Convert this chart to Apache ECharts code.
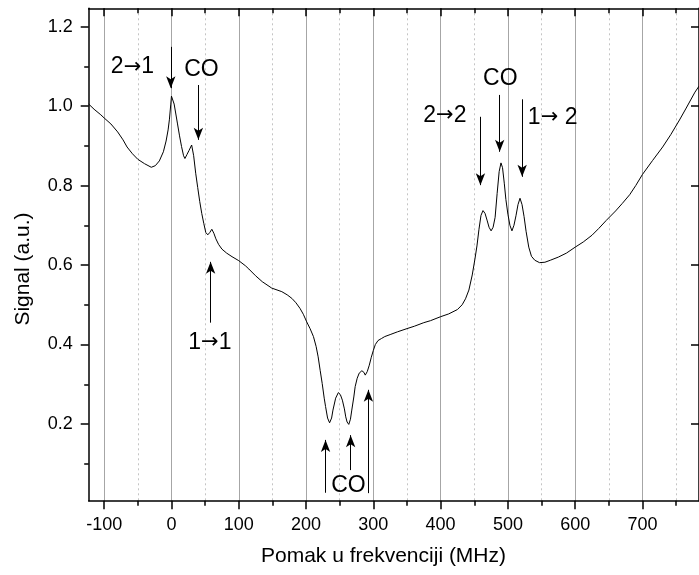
<!DOCTYPE html>
<html>
<head>
<meta charset="utf-8">
<script src="https://cdn.jsdelivr.net/npm/echarts@6/dist/echarts.min.js"></script>
<style>
html,body{margin:0;padding:0;background:#fff;}
#chart{width:699px;height:575px;}
</style>
</head>
<body>
<div id="chart"></div>
<script>
// ---- data ----
var freqMHz = [-123,-115,-105,-100,-90,-80,-72,-66,-58,-50,-40,-30,-24,-18,-12,-8,-5,-3,-1,0,2,4,7,9,12,15,18,20,23,26,30,33,36,39,42,45,48,51,54,57,60,63,66,70,75,82,90,100,110,115,125,135,149,164,172,179,185,191,196,201,206,211,215,218,221,224,227,229,232,235,238,240,244,248,251,254,257,259,261,263.5,266,268,271,273,276,279,283,286,288,291,294,297,300,303,307,312,317,325,336,350,361,375,385,400,412,425,432,437,442,447,451,454,457,460,463,466,469,472,475,478,481,484,487,489.7,492,494.6,497,500,503,506,509,512,515,518,521,524,527,531,535,540,547,555,563,575,587,600,612,625,635,646,660,670,681,690,700,715,730,742,755,765,778,784];
var signal = [1.005,0.992,0.978,0.970,0.955,0.935,0.915,0.897,0.880,0.866,0.855,0.846,0.850,0.862,0.885,0.912,0.940,0.967,1.005,1.025,1.022,1.005,0.975,0.955,0.925,0.898,0.875,0.868,0.878,0.888,0.902,0.875,0.831,0.795,0.760,0.730,0.705,0.682,0.676,0.682,0.690,0.680,0.666,0.652,0.640,0.630,0.621,0.611,0.598,0.590,0.573,0.558,0.542,0.533,0.525,0.516,0.505,0.491,0.476,0.457,0.440,0.420,0.395,0.369,0.335,0.302,0.265,0.244,0.215,0.203,0.215,0.235,0.265,0.279,0.274,0.260,0.238,0.218,0.205,0.199,0.212,0.235,0.268,0.294,0.315,0.328,0.334,0.330,0.323,0.332,0.348,0.368,0.385,0.400,0.410,0.415,0.420,0.425,0.432,0.440,0.446,0.455,0.460,0.470,0.477,0.488,0.500,0.515,0.537,0.575,0.615,0.648,0.690,0.725,0.737,0.730,0.713,0.695,0.686,0.695,0.720,0.780,0.835,0.857,0.845,0.806,0.765,0.728,0.700,0.686,0.700,0.724,0.752,0.768,0.752,0.722,0.685,0.645,0.622,0.612,0.606,0.607,0.612,0.620,0.630,0.645,0.658,0.675,0.692,0.712,0.736,0.755,0.777,0.800,0.828,0.863,0.897,0.928,0.965,0.995,1.035,1.050];

var xMajorTicks = [-100,0,100,200,300,400,500,600,700];
var xMinorTicks = [-50,50,150,250,350,450,550,650,750];
var yMajorTicks = [0.2,0.4,0.6,0.8,1.0,1.2];
var yMinorTicks = [0.1,0.3,0.5,0.7,0.9,1.1];

// annotation texts: label, x (MHz), y (signal)
var noteText = ['2\u21921','CO','1\u21921','CO','2\u21922','CO','1\u2192 2'];
var noteX    = [-58, 44.6, 57.1, 263, 406.3, 488.7, 566.5];
var noteY    = [1.098, 1.091, 0.404, 0.044, 0.977, 1.068, 0.971];

// arrows: x (MHz), tail y, head y
var arrowX    = [-1, 40, 58.2, 229, 266.3, 292.7, 459.2, 487.8, 521.2];
var arrowFrom = [1.149, 1.053, 0.455, 0.027, 0.084, 0.026, 0.973, 1.028, 1.017];
var arrowTo   = [1.045, 0.915, 0.608, 0.160, 0.172, 0.286, 0.801, 0.885, 0.822];

var X_MIN = -123, X_MAX = 784, Y_MIN = 0.007, Y_MAX = 1.246;
var FONT = 'Arial, "Liberation Sans", sans-serif';

var curve = freqMHz.map(function (f, i) { return [f, signal[i]]; });
var arrows = arrowX.map(function (x, i) {
  return [
    { coord: [x, arrowFrom[i]], symbol: 'none' },
    { coord: [x, arrowTo[i]], symbol: 'arrow', symbolSize: [7, 12] }
  ];
});
var notes = noteText.map(function (t, i) {
  return { name: t, coord: [noteX[i], noteY[i]] };
});

function xAxisBase(extra) {
  var base = {
    type: 'value', min: X_MIN, max: X_MAX, gridIndex: 0,
    axisLine: { show: false, onZero: false }, axisLabel: { show: false },
    axisTick: { show: false }, splitLine: { show: false }
  };
  for (var k in extra) base[k] = extra[k];
  return base;
}
function yAxisBase(extra) {
  var base = {
    type: 'value', min: Y_MIN, max: Y_MAX, gridIndex: 0,
    axisLine: { show: false, onZero: false }, axisLabel: { show: false },
    axisTick: { show: false }, splitLine: { show: false }
  };
  for (var k in extra) base[k] = extra[k];
  return base;
}

var chart = echarts.init(document.getElementById('chart'), null, { renderer: 'canvas' });
chart.setOption({
  animation: false,
  backgroundColor: '#fff',
  textStyle: { fontFamily: FONT },
  grid: { left: 88.7, top: 8.3, right: -4.3, bottom: 74.3, containLabel: false },
  xAxis: [
    xAxisBase({
      position: 'bottom',
      axisLine: { show: true, onZero: false, lineStyle: { color: '#000', width: 1.5 } },
      axisTick: { show: true, inside: false, length: 8.5, customValues: xMajorTicks, lineStyle: { color: '#000', width: 1.5 } },
      axisLabel: { show: true, customValues: xMajorTicks, color: '#000', fontSize: 18, margin: 15, fontFamily: FONT },
      splitLine: { show: true, lineStyle: { color: '#a6a6a6', width: 1, type: 'solid' } }
    }),
    xAxisBase({
      position: 'bottom',
      axisLine: { show: false, onZero: false },
      axisTick: { show: true, inside: false, length: 5, customValues: xMinorTicks, lineStyle: { color: '#000', width: 1.5 } },
      splitLine: { show: true, lineStyle: { color: '#c4c4c4', width: 1, type: [2, 3] } }
    }),
    xAxisBase({
      position: 'top',
      axisLine: { show: true, onZero: false, lineStyle: { color: '#000', width: 1.5 } },
      axisTick: { show: true, inside: true, length: 8, customValues: xMajorTicks, lineStyle: { color: '#000', width: 1.5 } }
    }),
    xAxisBase({
      position: 'top',
      axisLine: { show: false, onZero: false },
      axisTick: { show: true, inside: true, length: 5, customValues: xMinorTicks, lineStyle: { color: '#000', width: 1.5 } }
    })
  ],
  yAxis: [
    yAxisBase({
      position: 'left',
      axisLine: { show: true, onZero: false, lineStyle: { color: '#000', width: 1.5 } },
      axisTick: { show: true, inside: false, length: 8, customValues: yMajorTicks, lineStyle: { color: '#000', width: 1.5 } },
      axisLabel: { show: true, customValues: yMajorTicks, color: '#000', fontSize: 18, margin: 16, fontFamily: FONT,
                   formatter: function (v) { return v.toFixed(1); } }
    }),
    yAxisBase({
      position: 'left',
      axisLine: { show: false, onZero: false },
      axisTick: { show: true, inside: false, length: 4.5, customValues: yMinorTicks, lineStyle: { color: '#000', width: 1.5 } }
    }),
    yAxisBase({
      position: 'right',
      axisLine: { show: true, onZero: false, lineStyle: { color: '#000', width: 1.5 } },
      axisTick: { show: true, inside: true, length: 8, customValues: yMajorTicks, lineStyle: { color: '#000', width: 1.5 } }
    })
  ],
  graphic: [
    { type: 'text', x: 383.5, y: 556, style: { text: 'Pomak u frekvenciji (MHz)', fill: '#000', font: '21px ' + FONT, textAlign: 'center', textVerticalAlign: 'middle' } },
    { type: 'text', x: 23, y: 269, rotation: Math.PI / 2, style: { text: 'Signal (a.u.)', fill: '#000', font: '21px ' + FONT, textAlign: 'center', textVerticalAlign: 'middle' } }
  ],
  series: [{
    type: 'line',
    xAxisIndex: 0, yAxisIndex: 0,
    data: curve,
    showSymbol: false,
    symbol: 'none',
    lineStyle: { color: '#000', width: 1 },
    silent: true,
    markLine: {
      silent: true,
      animation: false,
      label: { show: false },
      lineStyle: { color: '#000', width: 1, type: 'solid' },
      symbol: ['none', 'arrow'],
      data: arrows
    },
    markPoint: {
      silent: true,
      animation: false,
      symbol: 'circle',
      symbolSize: 0,
      itemStyle: { color: 'transparent' },
      label: {
        show: true, position: 'inside', color: '#000', fontSize: 23, fontFamily: FONT,
        formatter: function (p) { return p.name.replace('\u2192', '{a|\u2192}'); },
        rich: { a: { fontFamily: '"DejaVu Sans"', fontSize: 21, color: '#000' } }
      },
      data: notes
    }
  }]
});
</script>
</body>
</html>
